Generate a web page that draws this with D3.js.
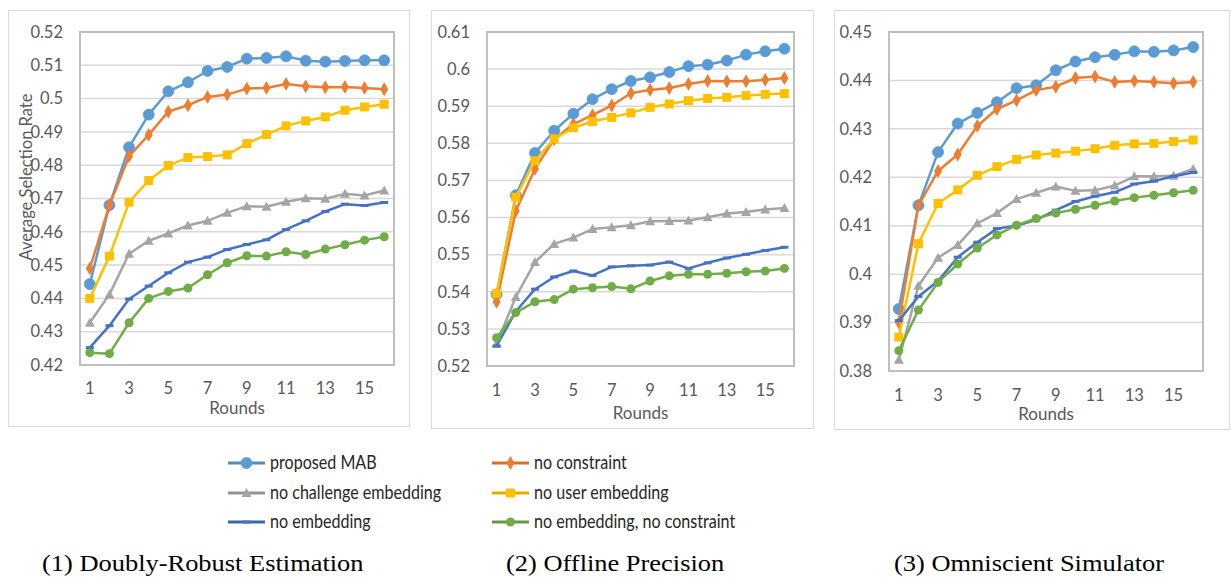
<!DOCTYPE html>
<html><head><meta charset="utf-8">
<script src="https://cdn.jsdelivr.net/npm/d3@7"></script>
<style>html,body{margin:0;padding:0;background:#fff;}svg{display:block;}</style>
</head><body>
<svg id="chart" width="1231" height="577"></svg>
<script>
// ---------- DATA ----------
const rounds = d3.range(1, 17);
const xTickLabels = [1, 3, 5, 7, 9, 11, 13, 15];
const seriesNames = ["proposed MAB", "no constraint", "no challenge embedding", "no user embedding", "no embedding", "no embedding, no constraint"];
const panelTitles = ["(1) Doubly-Robust Estimation", "(2) Offline Precision", "(3) Omniscient Simulator"];
const yTitle = "Average Selection Rate";
const xTitle = "Rounds";

// Panel 1: Doubly-Robust Estimation
const dreProposed      = [0.4443,0.4680,0.4854,0.4952,0.5022,0.5049,0.5083,0.5095,0.5120,0.5122,0.5127,0.5114,0.5111,0.5113,0.5115,0.5115];
const dreNoConstraint  = [0.4490,0.4680,0.4827,0.4891,0.4961,0.4980,0.5005,0.5012,0.5030,0.5032,0.5044,0.5037,0.5034,0.5035,0.5032,0.5028];
const dreNoChallenge   = [0.4327,0.4412,0.4534,0.4573,0.4595,0.4619,0.4633,0.4657,0.4677,0.4675,0.4690,0.4701,0.4699,0.4714,0.4709,0.4724];
const dreNoUser        = [0.4400,0.4527,0.4689,0.4754,0.4799,0.4823,0.4826,0.4831,0.4865,0.4892,0.4918,0.4933,0.4945,0.4965,0.4975,0.4983];
const dreNoEmbedding   = [0.4252,0.4318,0.4398,0.4437,0.4477,0.4509,0.4524,0.4547,0.4562,0.4576,0.4607,0.4633,0.4661,0.4683,0.4679,0.4688];
const dreNoEmbNoCons   = [0.4237,0.4234,0.4327,0.4400,0.4421,0.4431,0.4471,0.4507,0.4528,0.4527,0.4540,0.4532,0.4548,0.4561,0.4575,0.4585];

// Panel 2: Offline Precision
const opProposed       = [0.5393,0.5660,0.5774,0.5834,0.5880,0.5919,0.5946,0.5968,0.5978,0.5992,0.6008,0.6012,0.6023,0.6039,0.6048,0.6055];
const opNoConstraint   = [0.5373,0.5618,0.5731,0.5811,0.5852,0.5876,0.5902,0.5935,0.5944,0.5949,0.5960,0.5968,0.5967,0.5967,0.5971,0.5976];
const opNoChallenge    = [0.5260,0.5386,0.5480,0.5529,0.5546,0.5569,0.5574,0.5579,0.5590,0.5591,0.5592,0.5601,0.5611,0.5615,0.5622,0.5626];
const opNoUser         = [0.5395,0.5655,0.5753,0.5812,0.5842,0.5859,0.5870,0.5882,0.5897,0.5906,0.5915,0.5921,0.5924,0.5929,0.5932,0.5934];
const opNoEmbedding    = [0.5254,0.5347,0.5407,0.5440,0.5456,0.5444,0.5467,0.5470,0.5472,0.5480,0.5463,0.5478,0.5491,0.5501,0.5511,0.5520];
const opNoEmbNoCons    = [0.5276,0.5344,0.5373,0.5379,0.5407,0.5411,0.5414,0.5408,0.5429,0.5443,0.5447,0.5447,0.5450,0.5454,0.5456,0.5463];

// Panel 3: Omniscient Simulator
const osProposed       = [0.3928,0.4142,0.4252,0.4311,0.4333,0.4355,0.4384,0.4390,0.4421,0.4439,0.4448,0.4453,0.4460,0.4459,0.4462,0.4469];
const osNoConstraint   = [0.3900,0.4142,0.4213,0.4247,0.4306,0.4341,0.4359,0.4380,0.4387,0.4405,0.4408,0.4397,0.4399,0.4397,0.4394,0.4397];
const osNoChallenge    = [0.3823,0.3976,0.4034,0.4060,0.4105,0.4126,0.4155,0.4168,0.4181,0.4172,0.4173,0.4183,0.4202,0.4202,0.4203,0.4217];
const osNoUser         = [0.3870,0.4063,0.4146,0.4174,0.4204,0.4222,0.4237,0.4246,0.4250,0.4254,0.4259,0.4266,0.4269,0.4270,0.4274,0.4277];
const osNoEmbedding    = [0.3904,0.3954,0.3986,0.4035,0.4066,0.4094,0.4100,0.4112,0.4132,0.4150,0.4161,0.4169,0.4186,0.4192,0.4202,0.4210];
const osNoEmbNoCons    = [0.3842,0.3926,0.3983,0.4021,0.4054,0.4081,0.4101,0.4115,0.4126,0.4134,0.4142,0.4151,0.4158,0.4163,0.4168,0.4173];

const yDomains = [[0.42, 0.52], [0.52, 0.61], [0.38, 0.45]];
const yTickValues = [
  [0.42,0.43,0.44,0.45,0.46,0.47,0.48,0.49,0.50,0.51,0.52],
  [0.52,0.53,0.54,0.55,0.56,0.57,0.58,0.59,0.60,0.61],
  [0.38,0.39,0.40,0.41,0.42,0.43,0.44,0.45]
];

// ---------- STYLE ----------
const colors = ["#5B9BD5", "#ED7D31", "#A5A5A5", "#FFC000", "#4472C4", "#70AD47"];
const markers = ["circle", "diamond", "triangle", "square", "dash", "smallcircle"];
const drawOrder = [0, 1, 2, 3, 4, 5];

const panels = [
  { series: [dreProposed, dreNoConstraint, dreNoChallenge, dreNoUser, dreNoEmbedding, dreNoEmbNoCons],
    outer: [8, 10, 409, 426], plot: [80, 32, 394, 365], tickY: 388, titleY: 408, yTitle: true, caption: [42, 563] },
  { series: [opProposed, opNoConstraint, opNoChallenge, opNoUser, opNoEmbedding, opNoEmbNoCons],
    outer: [431, 10, 813, 428], plot: [487, 32, 794, 366], tickY: 390, titleY: 413, yTitle: false, caption: [506, 563] },
  { series: [osProposed, osNoConstraint, osNoChallenge, osNoUser, osNoEmbedding, osNoEmbNoCons],
    outer: [834, 10, 1229, 429], plot: [889, 32, 1203, 371], tickY: 395, titleY: 414, yTitle: false, caption: [894, 563] }
];

const svg = d3.select("#chart");
const labelFont = "Lato, 'Open Sans', sans-serif";

function drawMarker(g, type, x, y, color) {
  if (type === "circle") {
    g.append("circle").attr("cx", x).attr("cy", y).attr("r", 5.5).attr("fill", color).attr("stroke", color).attr("stroke-width", 0.8);
  } else if (type === "smallcircle") {
    g.append("circle").attr("cx", x).attr("cy", y).attr("r", 4.5).attr("fill", color);
  } else if (type === "diamond") {
    g.append("path").attr("d", d3.symbol(d3.symbolDiamond, 55)()).attr("transform", `translate(${x},${y})`).attr("fill", color);
  } else if (type === "triangle") {
    g.append("path").attr("d", `M${x},${y-5} L${x+5},${y+4} L${x-5},${y+4} Z`).attr("fill", color);
  } else if (type === "square") {
    g.append("rect").attr("x", x - 4.5).attr("y", y - 4.5).attr("width", 9).attr("height", 9).attr("fill", color);
  } else if (type === "dash") {
    g.append("rect").attr("x", x - 4).attr("y", y - 1.5).attr("width", 8).attr("height", 3).attr("fill", color);
  }
}

panels.forEach((p, pi) => {
  const g = svg.append("g");
  const [ox0, oy0, ox1, oy1] = p.outer;
  g.append("rect").attr("x", ox0 + 0.5).attr("y", oy0 + 0.5).attr("width", ox1 - ox0).attr("height", oy1 - oy0)
    .attr("fill", "#fff").attr("stroke", "#d9d9d9").attr("stroke-width", 1);

  const [px0, py0, px1, py1] = p.plot;
  const x = d3.scaleBand().domain(rounds).range([px0, px1]);
  const xc = d => x(d) + x.bandwidth() / 2;
  const y = d3.scaleLinear().domain(yDomains[pi]).range([py1, py0]);

  g.append("g").selectAll("line").data(yTickValues[pi]).join("line")
    .attr("x1", px0).attr("x2", px1).attr("y1", d => y(d)).attr("y2", d => y(d))
    .attr("stroke", "#d9d9d9").attr("stroke-width", 1.5);

  g.append("rect").attr("x", px0).attr("y", py0).attr("width", px1 - px0).attr("height", py1 - py0)
    .attr("fill", "none").attr("stroke", "#bfbfbf").attr("stroke-width", 2);

  const yAxis = d3.axisLeft(y).tickValues(yTickValues[pi]).tickSize(0).tickPadding(10)
    .tickFormat(d => d3.format("")(+d.toFixed(2)));
  const ya = g.append("g").attr("transform", `translate(${px0 - 7},0)`).call(yAxis);
  ya.select(".domain").remove();
  ya.selectAll("text").attr("font-family", labelFont).attr("font-size", 16.5).attr("fill", "#595959");

  const xAxis = d3.axisBottom(x).tickValues(xTickLabels).tickSize(0).tickPadding(0);
  const xa = g.append("g").attr("transform", `translate(0,${p.tickY})`).call(xAxis);
  xa.select(".domain").remove();
  xa.selectAll("text").attr("font-family", labelFont).attr("font-size", 16.5).attr("fill", "#595959")
    .attr("dy", "0.35em");

  g.append("text").attr("x", (px0 + px1) / 2).attr("y", p.titleY).attr("dy", "0.35em")
    .attr("text-anchor", "middle").attr("font-family", labelFont).attr("font-size", 17).attr("fill", "#595959")
    .text(xTitle);

  if (p.yTitle) {
    g.append("text").attr("transform", `translate(26,177) rotate(-90)`).attr("dy", "0.35em")
      .attr("text-anchor", "middle").attr("font-family", labelFont).attr("font-size", 16.5).attr("fill", "#595959")
      .text(yTitle);
  }

  drawOrder.forEach(si => {
    const vals = p.series[si];
    const line = d3.line().x((d, i) => xc(rounds[i])).y(d => y(d));
    const sg = g.append("g");
    sg.append("path").datum(vals).attr("d", line).attr("fill", "none")
      .attr("stroke", colors[si]).attr("stroke-width", 2.5).attr("stroke-linejoin", "round");
    vals.forEach((v, i) => drawMarker(sg, markers[si], xc(rounds[i]), y(v), colors[si]));
  });

  // caption (stretched horizontally to match the reference's wide serif)
  svg.append("text").attr("transform", `translate(${p.caption[0]},${p.caption[1]}) scale(1.15,1)`).attr("dy", "0.35em")
    .attr("font-family", "'Liberation Serif', 'Times New Roman', serif").attr("font-size", 23).attr("fill", "#000")
    .text(panelTitles[pi]);
});

// legend
const legendPos = [[228, 463], [492, 463], [228, 493], [492, 493], [228, 522], [492, 522]];
const lg = svg.append("g");
seriesNames.forEach((name, i) => {
  const [lx, ly] = legendPos[i];
  lg.append("line").attr("x1", lx).attr("x2", lx + 37).attr("y1", ly).attr("y2", ly)
    .attr("stroke", d3.color(colors[i]).darker(0.3)).attr("stroke-width", 3);
  drawMarker(lg, markers[i], lx + 18.5, ly, colors[i]);
  lg.append("text").attr("transform", `translate(${lx + 42},${ly}) scale(0.87,1)`).attr("dy", "0.35em")
    .attr("font-family", labelFont).attr("font-size", 18.5).attr("fill", "#262626").text(name);
});
</script>
</body></html>
